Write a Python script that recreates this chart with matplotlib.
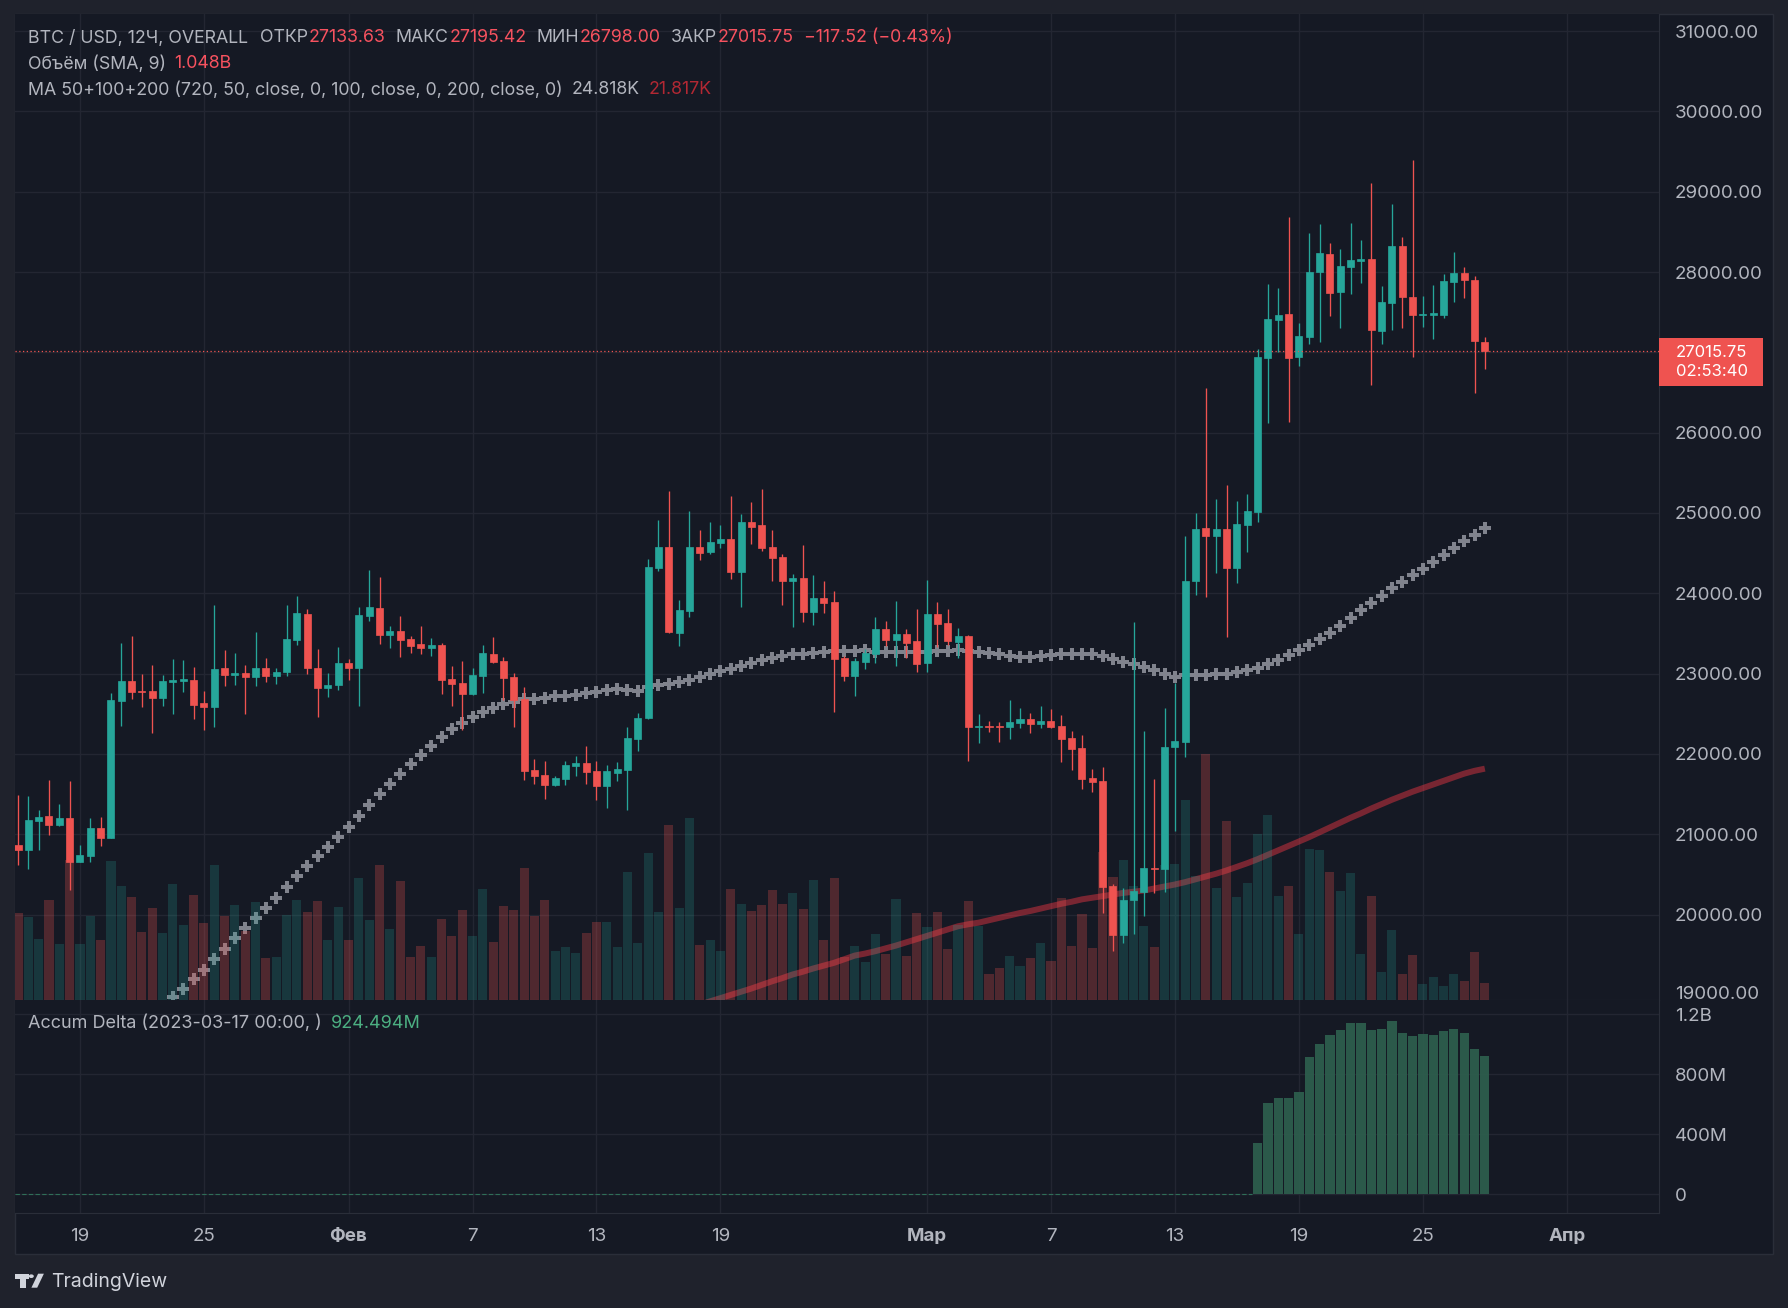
import matplotlib
matplotlib.use("Agg")
import matplotlib.pyplot as plt
from matplotlib.patches import Rectangle, Polygon, Circle
from matplotlib.transforms import Bbox, TransformedBbox
import numpy as np

plt.rcParams['font.family'] = ['Inter', 'DejaVu Sans']

# ---- data (12h candles, BTC/USD, from 2023-01-16 00:00) ----
opens = [20870, 20805, 21165, 21230, 21115, 21205, 20655, 20730, 21080, 20955,
         22660, 22910, 22785, 22785, 22695, 22895, 22910, 22920, 22635, 22585,
         23070, 22985, 23010, 22960, 23070, 22970, 23020, 23420, 23745, 23070,
         22820, 22860, 23135, 23070, 23720, 23815, 23480, 23530, 23430, 23370,
         23320, 23355, 22935, 22885, 22745, 22970, 23245, 23160, 22960, 22685,
         21800, 21740, 21615, 21690, 21850, 21890, 21790, 21600, 21765, 21800,
         22190, 22445, 24315, 24575, 23505, 23780, 24575, 24515, 24625, 24675,
         24265, 24890, 24850, 24575, 24450, 24155, 24190, 23765, 23940, 23890,
         23195, 22970, 23145, 23245, 23555, 23420, 23495, 23405, 23130, 23740,
         23630, 23395, 23470, 22335, 22350, 22350, 22335, 22385, 22435, 22375,
         22410, 22350, 22200, 22075, 21700, 21665, 20355, 19745, 20180, 20285,
         20585, 20570, 22085, 22150, 24150, 24815, 24715, 24800, 24315, 24850,
         25010, 26930, 27405, 27475, 26940, 27190, 28000, 28225, 27750, 28060,
         28140, 28160, 27265, 27615, 28325, 27690, 27465, 27465, 27465, 27875,
         27990, 27900, 27133.63]
highs = [21490, 21480, 21305, 21675, 21375, 21665, 20865, 21205, 21215, 22760,
         23380, 23470, 23000, 23110, 22985, 23180, 23170, 23085, 22785, 23855,
         23295, 23255, 23110, 23520, 23195, 23070, 23855, 23965, 23805, 23305,
         23010, 23330, 23180, 23830, 24290, 24205, 23595, 23720, 23470, 23595,
         23445, 23380, 23095, 23160, 23070, 23355, 23455, 23205, 23010, 22835,
         21935, 21915, 21725, 21915, 21975, 22100, 21915, 21865, 21900, 22335,
         22510, 24425, 24910, 25275, 23915, 25025, 24790, 24890, 24850, 25210,
         24985, 25135, 25300, 24790, 24490, 24240, 24600, 24230, 24155, 24030,
         23220, 23195, 23305, 23705, 23655, 23905, 23555, 23805, 24165, 23890,
         23805, 23570, 23480, 22500, 22410, 22400, 22670, 22570, 22510, 22595,
         22560, 22485, 22285, 22235, 21815, 21840, 20380, 20330, 23645, 22285,
         21690, 22570, 22885, 24710, 25000, 26555, 25175, 25350, 25150, 25235,
         27040, 27850, 27800, 28685, 27365, 28485, 28600, 28360, 28285, 28610,
         28400, 29110, 27825, 28845, 28435, 29395, 27700, 27840, 27975, 28250,
         28060, 27950, 27195.42]
lows = [20620, 20570, 20805, 20990, 21105, 20305, 20650, 20655, 20855, 20950,
        22350, 22685, 22585, 22260, 22595, 22500, 22770, 22435, 22300, 22335,
        22845, 22860, 22500, 22845, 22895, 22870, 22970, 23355, 22995, 22460,
        22710, 22795, 22920, 22595, 23655, 23370, 23320, 23205, 23255, 23245,
        23220, 22745, 22595, 22300, 22740, 22760, 23135, 22670, 22335, 21675,
        21625, 21440, 21600, 21615, 21725, 21625, 21425, 21325, 21665, 21300,
        22035, 22435, 24280, 23505, 23345, 23705, 24415, 24490, 24565, 24180,
        23830, 24615, 24525, 24155, 23855, 23580, 23645, 23605, 23755, 22520,
        22910, 22720, 23055, 23130, 23345, 23095, 23195, 23020, 23020, 23330,
        23355, 23195, 21910, 22135, 22275, 22150, 22185, 22325, 22260, 22325,
        22325, 21900, 21800, 21565, 21525, 20020, 19545, 19645, 19760, 19985,
        20270, 20280, 21040, 21960, 23980, 23955, 24255, 23455, 24130, 24515,
        24890, 26120, 27005, 26135, 26830, 27105, 27130, 27450, 27305, 27725,
        27865, 26595, 27105, 27280, 27305, 26940, 27315, 27165, 27425, 27625,
        27675, 26495, 26798.00]
closes = [20810, 21180, 21215, 21115, 21205, 20655, 20740, 21080, 20955, 22670,
          22910, 22770, 22770, 22695, 22910, 22920, 22930, 22610, 22585, 23060,
          22985, 23010, 22960, 23070, 22970, 23020, 23430, 23755, 23070, 22820,
          22860, 23135, 23070, 23730, 23830, 23480, 23530, 23420, 23345, 23320,
          23355, 22920, 22870, 22745, 22985, 23255, 23145, 22945, 22670, 21790,
          21725, 21615, 21700, 21865, 21890, 21775, 21600, 21790, 21815, 22200,
          22450, 24325, 24575, 23520, 23790, 24575, 24500, 24640, 24675, 24265,
          24890, 24825, 24565, 24440, 24155, 24190, 23765, 23940, 23880, 23180,
          22970, 23155, 23255, 23555, 23420, 23495, 23380, 23120, 23740, 23620,
          23405, 23470, 22340, 22350, 22335, 22335, 22400, 22435, 22375, 22410,
          22335, 22185, 22060, 21690, 21650, 20345, 19745, 20180, 20295, 20580,
          20570, 22085, 22160, 24150, 24800, 24715, 24800, 24315, 24865, 25025,
          26940, 27415, 27465, 26930, 27205, 28000, 28235, 27740, 28075, 28150,
          28160, 27280, 27625, 28325, 27690, 27465, 27480, 27490, 27890, 27990,
          27900, 27135, 27015.75]

# volume, billions USD
volume_b = [5.37, 5.12, 3.76, 6.17, 3.46, 8.64, 3.46, 5.18, 3.70, 8.58,
            7.03, 6.36, 4.20, 5.68, 4.13, 7.16, 4.63, 6.48, 4.75, 8.33,
            5.18, 5.86, 4.26, 6.05, 2.59, 2.65, 5.24, 6.17, 5.43, 6.11,
            3.70, 5.74, 3.70, 7.53, 4.94, 8.33, 4.38, 7.34, 2.65, 3.33,
            2.65, 5.00, 3.95, 5.55, 3.95, 6.85, 3.58, 5.80, 5.55, 8.14,
            5.18, 6.17, 3.02, 3.27, 2.90, 4.13, 4.81, 4.81, 3.27, 7.90,
            3.52, 9.07, 5.43, 10.80, 5.68, 11.23, 3.39, 3.70, 3.02, 6.85,
            5.92, 5.49, 5.86, 6.79, 5.92, 6.60, 5.61, 7.40, 3.70, 7.53,
            2.65, 3.33, 2.34, 4.07, 2.84, 6.23, 2.71, 5.37, 4.50, 5.43,
            3.15, 4.63, 6.11, 4.57, 1.60, 1.97, 2.71, 2.10, 2.59, 3.52,
            2.41, 6.29, 3.33, 5.31, 3.21, 9.13, 7.59, 8.64, 7.03, 4.57,
            3.27, 8.33, 8.39, 12.34, 7.65, 15.18, 6.91, 11.04, 6.36, 7.22,
            10.24, 11.41, 6.42, 7.03, 4.07, 9.32, 9.26, 7.90, 6.73, 7.84,
            2.84, 6.42, 1.73, 4.32, 1.60, 2.78, 0.99, 1.42, 0.86, 1.60,
            1.17, 2.96, 1.048]

# MA 50 (grey crosses) from candle 16
ma50_first = 16
ma50 = [18980, 19075, 19200, 19310, 19445, 19570, 19710, 19835, 19960, 20080,
        20205, 20345, 20480, 20605, 20730, 20840, 20970, 21095, 21230, 21365,
        21500, 21630, 21755, 21880, 21990, 22105, 22215, 22305, 22385, 22465,
        22525, 22575, 22620, 22650, 22685, 22690, 22700, 22720, 22725, 22740,
        22765, 22775, 22795, 22810, 22795, 22790, 22835, 22860, 22870, 22895,
        22920, 22960, 23000, 23035, 23055, 23100, 23135, 23170, 23200, 23225,
        23250, 23250, 23260, 23275, 23285, 23285, 23285, 23295, 23275, 23270,
        23270, 23270, 23270, 23270, 23280, 23280, 23295, 23285, 23270, 23255,
        23240, 23220, 23205, 23205, 23220, 23235, 23245, 23245, 23245, 23245,
        23220, 23180, 23145, 23115, 23085, 23045, 22995, 22960, 22980, 22985,
        22985, 22990, 23000, 23015, 23040, 23075, 23120, 23170, 23230, 23290,
        23360, 23435, 23510, 23595, 23695, 23790, 23885, 23970, 24070, 24145,
        24230, 24305, 24395, 24480, 24570, 24655, 24730, 24818]

# MA 200 (red line) from candle 66
ma200_first = 66
ma200 = [18840, 18880, 18920, 18960, 19000, 19040, 19080, 19125, 19170, 19210,
         19255, 19290, 19330, 19365, 19400, 19445, 19490, 19515, 19545, 19580,
         19615, 19655, 19695, 19735, 19775, 19815, 19855, 19880, 19900, 19930,
         19960, 19990, 20020, 20045, 20075, 20105, 20135, 20160, 20190, 20210,
         20230, 20250, 20270, 20285, 20300, 20325, 20350, 20375, 20405, 20440,
         20475, 20510, 20550, 20595, 20640, 20690, 20745, 20800, 20855, 20910,
         20965, 21025, 21085, 21145, 21205, 21260, 21320, 21375, 21430, 21480,
         21530, 21575, 21620, 21665, 21710, 21755, 21790, 21817]

# accumulated delta (millions) from 2023-03-17 00:00 = candle 121
delta_first = 121
delta_m = [342, 609, 642, 642, 682, 915, 1002, 1062, 1095, 1142,
           1142, 1095, 1102, 1155, 1075, 1055, 1069, 1062, 1089, 1102,
           1075, 969, 924.494]

tick_pos = [7, 19, 33, 45, 57, 69, 89, 101, 113, 125, 137, 151]
tick_labels = ['19', '25', 'Фев', '7', '13', '19', 'Мар', '7', '13', '19', '25', 'Апр']
month_labels = ['Фев', 'Мар', 'Апр']
price_ticks = [20000, 21000, 22000, 23000, 24000, 25000, 26000, 27000, 28000, 29000, 30000, 31000]
delta_ticks = [0, 400, 800, 1200]
delta_tick_labels = ['0', '400M', '800M', '1.2B']

# ---- colours ----
BG = '#151924'
OUTER = '#1f222c'
GRID = '#232632'
SEP = '#2a2e39'
TXT = '#b2b5be'
GREEN = '#26a69a'
RED = '#ef5350'

W, H = 1788, 1308
fig = plt.figure(figsize=(W / 100, H / 100), dpi=100)
fig.patch.set_facecolor(OUTER)


def fx(px):
    return px / W


def fy(py):
    return 1 - py / H


fig.patches.append(Rectangle((fx(15), fy(1254)), fx(1773) - fx(15), fy(14) - fy(1254),
                             transform=fig.transFigure, facecolor=BG, edgecolor=SEP,
                             lw=1, zorder=-5))

price_rect = [fx(15), fy(1000), fx(1659) - fx(15), fy(14) - fy(1000)]
delta_rect = [fx(15), fy(1213), fx(1659) - fx(15), fy(1000) - fy(1213)]

n = len(closes)
x = np.arange(1, n + 1)
o = np.array(opens)
c = np.array(closes)
up = c >= o
cols = np.where(up, GREEN, RED)

# background price axes: grid + moving averages
ax_bg = fig.add_axes(price_rect)
ax_bg.set_facecolor(BG)
ax_bg.set_xlim(0.71, 159.86)
ax_bg.set_ylim(18937, 31212)
# the 27000 label sits under the last-price badge, so it is left blank
price_labels = ['' if p == 27000 else f'{p:.2f}' for p in price_ticks]
ax_bg.set_yticks(price_ticks, labels=price_labels)
ax_bg.set_xticks(tick_pos)
ax_bg.yaxis.tick_right()
ax_bg.tick_params(axis='y', length=0, pad=11.5, labelsize=13.5, labelcolor=TXT)
ax_bg.tick_params(axis='x', length=0, labelbottom=False)
ax_bg.grid(True, color=GRID, lw=1)
for s in ax_bg.spines.values():
    s.set_color(SEP)
ax_bg.spines['top'].set_visible(False)
ax_bg.spines['left'].set_visible(False)

x200 = np.arange(ma200_first, ma200_first + len(ma200))
ax_bg.plot(x200, ma200, color='#f23645', alpha=0.45, lw=4.3, solid_capstyle='butt', zorder=3)
x50 = np.arange(ma50_first, ma50_first + len(ma50))
ax_bg.plot(x50, ma50, ls='none', marker='P', ms=8.2, mew=0, color='#80838d', zorder=3)

# volume overlay
ax_vol = fig.add_axes(price_rect, sharex=ax_bg)
ax_vol.patch.set_visible(False)
ax_vol.axis('off')
ax_vol.set_ylim(0, 60.9)
vcols = np.where(up, '#26a69a38', '#ef535045')
ax_vol.bar(x, volume_b, width=0.88, color=vcols, lw=0)

# candles overlay
ax_c = fig.add_axes(price_rect, sharex=ax_bg)
ax_c.patch.set_visible(False)
ax_c.axis('off')
ax_c.set_ylim(18937, 31212)
ax_c.axhline(closes[-1], color=RED, lw=0.9, ls=(0, (1, 2)))
ax_c.vlines(x, lows, highs, colors=cols, lw=0.95)
ax_c.bar(x, np.abs(c - o), bottom=np.minimum(o, c), width=0.68, color=cols,
         edgecolor=cols, lw=0.5)

ax_bg.set_xlim(0.71, 159.86)

# delta pane
ax_d = fig.add_axes(delta_rect, sharex=ax_bg)
ax_d.set_facecolor(BG)
ax_d.set_axisbelow(True)
ax_d.set_ylim(-124.7, 1295)
ax_d.set_yticks(delta_ticks, labels=delta_tick_labels)
ax_d.yaxis.tick_right()
ax_d.tick_params(axis='y', length=0, pad=11.5, labelsize=13.5, labelcolor=TXT)
ax_d.set_xticks(tick_pos, labels=tick_labels)
ax_d.tick_params(axis='x', length=0, pad=10.5, labelsize=13.5, labelcolor=TXT)
for lbl in ax_d.get_xticklabels():
    if lbl.get_text() in month_labels:
        lbl.set_fontweight('bold')
ax_d.grid(True, color=GRID, lw=1)
for s in ax_d.spines.values():
    s.set_color(SEP)
ax_d.spines['top'].set_visible(False)
ax_d.spines['left'].set_visible(False)
xd = np.arange(delta_first, delta_first + len(delta_m))
ax_d.hlines(0, 0.71, delta_first - 0.5, color='#2f6e58', lw=0.8, ls=(0, (4, 2)))
ax_d.bar(xd, delta_m, width=0.9, color='#2d5d4d', alpha=0.95, lw=0)
ax_d.set_xlim(0.71, 159.86)

# 19000 label, clipped by the pane separator
clip = TransformedBbox(Bbox([[fx(1659), fy(1000)], [fx(1773), fy(14)]]), fig.transFigure)
t19 = ax_bg.text(1.0 + 16 / (1659 - 15), 19000, '19000.00', transform=ax_bg.get_yaxis_transform(),
                 color=TXT, fontsize=13.5, va='center', ha='left')
t19.set_clip_box(clip)
t19.set_clip_on(True)

# last price label (price + countdown in one block)
fig.canvas.draw()
yc = ax_bg.transData.transform((1, closes[-1]))[1]
ycf = yc / H
fig.patches.append(Rectangle((fx(1659), ycf - 35 / H), fx(1763) - fx(1659), 48 / H,
                             transform=fig.transFigure, facecolor=RED, lw=0, zorder=5))
fig.text(fx(1676), ycf - 11 / H, f'{closes[-1]:.2f}\n02:53:40', color='white',
         fontsize=12, va='center', ha='left', linespacing=1.3, zorder=6)

# legend rows
rend = fig.canvas.get_renderer()


def text_row(parts, x0, y0, size=12.8):
    xx = x0
    for s, col, gap in parts:
        t = fig.text(fx(xx), fy(y0), s, color=col, fontsize=size, va='center', ha='left')
        xx = t.get_window_extent(rend).x1 + gap


VAL = '#f7525f'
text_row([('BTC / USD, 12Ч, OVERALL', TXT, 12), ('ОТКР', TXT, 1), ('27133.63', VAL, 10),
          ('МАКС', TXT, 1), ('27195.42', VAL, 10), ('МИН', TXT, 1), ('26798.00', VAL, 10),
          ('ЗАКР', TXT, 1), ('27015.75', VAL, 10), ('−117.52 (−0.43%)', VAL, 0)], 27.6, 38)
text_row([('Объём (SMA, 9)', TXT, 9), ('1.048B', VAL, 0)], 27.6, 64)
text_row([('MA 50+100+200 (720, 50, close, 0, 100, close, 0, 200, close, 0)', TXT, 9),
          ('24.818K', TXT, 9), ('21.817K', '#b22833', 0)], 27.6, 90)
text_row([('Accum Delta (2023-03-17 00:00, )', TXT, 10), ('924.494M', '#4caf82', 0)],
         27.6, 1023, size=13)

# TradingView logo
LOGO = '#d1d4dc'
tshape = [(15, 1273.7), (28.6, 1273.7), (28.6, 1278.6), (25.7, 1278.6), (25.7, 1287.7),
          (20.4, 1287.7), (20.4, 1278.6), (15, 1278.6)]
fig.patches.append(Polygon([(fx(a), fy(b)) for a, b in tshape], closed=True,
                           transform=fig.transFigure, color=LOGO, lw=0))
fig.patches.append(Circle((fx(31.3), fy(1276.2)), 2.5 / W, transform=fig.transFigure,
                          color=LOGO, lw=0))
slash = [(31.4, 1287.7), (37.2, 1287.7), (43.9, 1273.7), (38.1, 1273.7)]
fig.patches.append(Polygon([(fx(a), fy(b)) for a, b in slash], closed=True,
                           transform=fig.transFigure, color=LOGO, lw=0))
fig.text(fx(50.7), fy(1282), 'TradingView', color=LOGO, fontsize=14, va='center', ha='left')

fig.savefig('out.png', dpi=100, facecolor=OUTER)
